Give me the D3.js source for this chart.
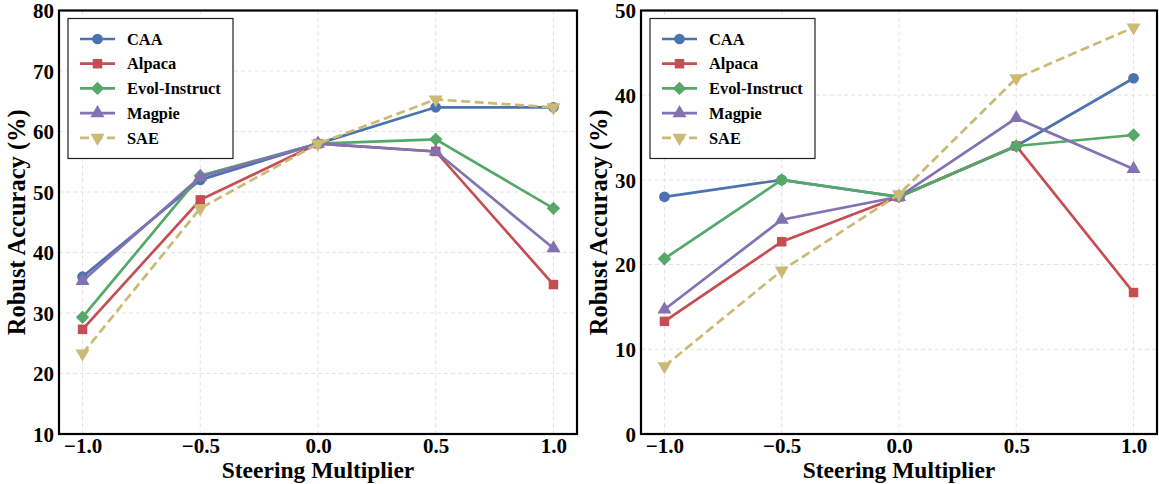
<!DOCTYPE html>
<html><head><meta charset="utf-8">
<script src="https://cdn.jsdelivr.net/npm/d3@7"></script>
<style>body{margin:0;background:#fff}svg{display:block}text{font-family:"Liberation Serif","Times New Roman",serif;font-weight:bold}</style>
</head><body><svg id="c" width="1159" height="484"></svg>
<script>
const multipliers = [-1.0, -0.5, 0.0, 0.5, 1.0];
const seriesNames = ["CAA", "Alpaca", "Evol-Instruct", "Magpie", "SAE"];
const leftCAA = [36, 52, 58, 64, 64];
const leftAlpaca = [27.3, 48.7, 58, 56.7, 34.7];
const leftEvol = [29.3, 52.7, 58, 58.7, 47.3];
const leftMagpie = [35.3, 52.5, 58, 56.7, 40.7];
const leftSAE = [23.3, 47.3, 58, 65.3, 64];
const rightCAA = [28, 30, 28, 34, 42];
const rightAlpaca = [13.3, 22.7, 28, 34, 16.7];
const rightEvol = [20.7, 30, 28, 34, 35.3];
const rightMagpie = [14.7, 25.3, 28, 37.3, 31.3];
const rightSAE = [8, 19.3, 28.3, 42, 48];
const xTicks = [-1.0, -0.5, 0.0, 0.5, 1.0];
const leftYTicks = [10, 20, 30, 40, 50, 60, 70, 80];
const rightYTicks = [0, 10, 20, 30, 40, 50];

const colors = ["#4C72B0", "#C44E52", "#55A868", "#8172B2", "#CCB974"];
const symbols = [d3.symbolCircle, d3.symbolSquare, d3.symbolSquare, d3.symbolTriangle, d3.symbolTriangle];
const sizes = [90, 90, 90, 85, 85];
const rots = [0, 0, 45, 0, 180];
const svg = d3.select("#c");

function panel(x0, x1, yDomain, yTicks, data) {
  const top = 10.5, bottom = 434;
  const x = d3.scaleLinear().domain([-1.1, 1.1]).range([x0, x1]);
  const y = d3.scaleLinear().domain(yDomain).range([bottom, top]);
  const g = svg.append("g");
  g.selectAll(".gx").data(xTicks).enter().append("line")
    .attr("x1", d => x(d)).attr("x2", d => x(d)).attr("y1", top).attr("y2", bottom)
    .attr("stroke", "#e3e3e3").attr("stroke-width", 1).attr("stroke-dasharray", "4,3");
  g.selectAll(".gy").data(yTicks).enter().append("line")
    .attr("y1", d => y(d)).attr("y2", d => y(d)).attr("x1", x0).attr("x2", x1)
    .attr("stroke", "#e3e3e3").attr("stroke-width", 1).attr("stroke-dasharray", "4,3");
  const xa = g.append("g").attr("transform", `translate(0,${bottom})`)
    .call(d3.axisBottom(x).tickValues(xTicks).tickSize(0).tickPadding(4).tickFormat(d => d3.format(".1f")(d).replace("-", "\u2212")));
  xa.select(".domain").remove();
  xa.selectAll("text").attr("font-size", 21).attr("fill", "#000").style("font-family", '"Liberation Serif",serif').style("font-weight", "bold");
  const ya = g.append("g").attr("transform", `translate(${x0},0)`)
    .call(d3.axisLeft(y).tickValues(yTicks).tickSize(0).tickPadding(5));
  ya.select(".domain").remove();
  ya.selectAll("text").attr("font-size", 21).attr("fill", "#000").attr("dy", "0.35em").style("font-family", '"Liberation Serif",serif').style("font-weight", "bold");
  const line = d3.line().x((d, i) => x(multipliers[i])).y(d => y(d));
  data.forEach((vals, si) => {
    g.append("path").attr("d", line(vals)).attr("fill", "none")
      .attr("stroke", colors[si]).attr("stroke-width", 2.7)
      .attr("stroke-dasharray", si === 4 ? "9,4.5" : null);
    g.selectAll(".m" + si).data(vals).enter().append("path")
      .attr("d", d3.symbol().type(symbols[si]).size(sizes[si]))
      .attr("transform", (d, i) => `translate(${x(multipliers[i])},${y(d)}) rotate(${rots[si]})`)
      .attr("fill", colors[si]);
  });
  g.append("rect").attr("x", x0).attr("y", top).attr("width", x1 - x0).attr("height", bottom - top)
    .attr("fill", "none").attr("stroke", "#000").attr("stroke-width", 2.2);
  g.append("text").attr("x", (x0 + x1) / 2).attr("y", 478).attr("text-anchor", "middle")
    .attr("font-size", 23.5).text("Steering Multiplier");
  g.append("text").attr("transform", `translate(${x0 - 34},${(top + bottom) / 2}) rotate(-90)`)
    .attr("text-anchor", "middle").attr("font-size", 24.5).text("Robust Accuracy (%)");
  const lx = x0 + 9, ly = 18.5;
  const lg = g.append("g");
  lg.append("rect").attr("x", lx).attr("y", ly).attr("width", 165).attr("height", 140)
    .attr("fill", "#fff").attr("stroke", "#222").attr("stroke-width", 1.2);
  seriesNames.forEach((n, si) => {
    const yy = ly + 20.5 + si * 24.7;
    lg.append("line").attr("x1", lx + 12).attr("x2", lx + 47).attr("y1", yy).attr("y2", yy)
      .attr("stroke", colors[si]).attr("stroke-width", 2.7).attr("stroke-dasharray", si === 4 ? "9,4.5" : null);
    lg.append("path").attr("d", d3.symbol().type(symbols[si]).size(sizes[si]))
      .attr("transform", `translate(${lx + 29.5},${yy}) rotate(${rots[si]})`).attr("fill", colors[si]);
    lg.append("text").attr("x", lx + 59).attr("y", yy).attr("dy", "0.35em").attr("font-size", 16.4).text(n);
  });
}

panel(59, 577, [10, 80], leftYTicks, [leftCAA, leftAlpaca, leftEvol, leftMagpie, leftSAE]);
panel(641, 1157, [0, 50], rightYTicks, [rightCAA, rightAlpaca, rightEvol, rightMagpie, rightSAE]);
</script></body></html>
